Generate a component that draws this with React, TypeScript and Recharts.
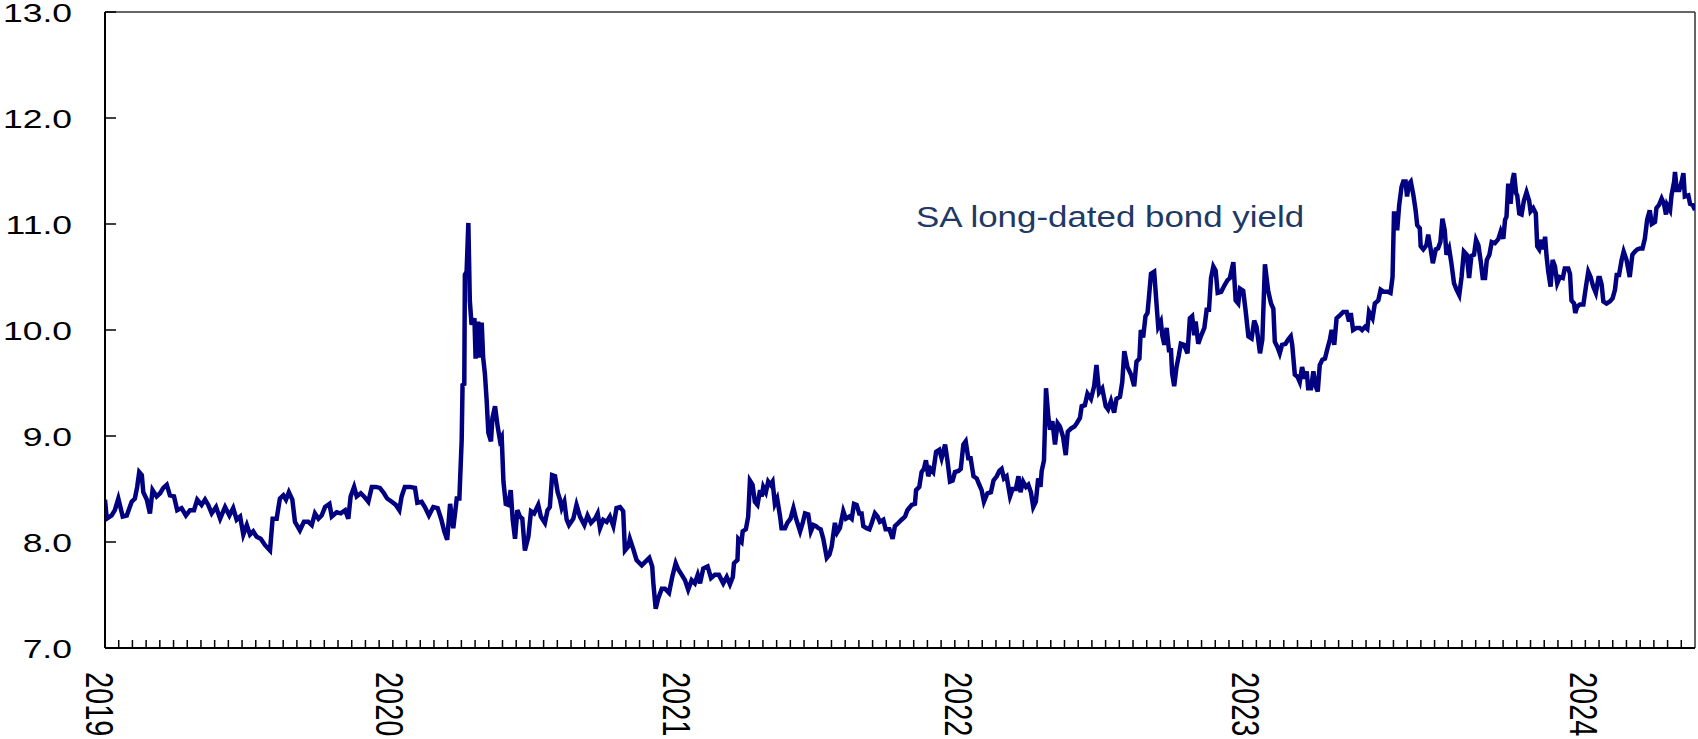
import { LineChart, Line, XAxis, YAxis, ReferenceLine, ReferenceDot } from "recharts";

// [date as fractional year, yield %]
const y2019: [number, number][] = [
  [2019.000, 8.40], [2019.006, 8.22], [2019.023, 8.25], [2019.034, 8.30], [2019.046, 8.41], [2019.061, 8.24],
  [2019.075, 8.25], [2019.092, 8.38], [2019.103, 8.41], [2019.111, 8.52], [2019.118, 8.66], [2019.127, 8.63],
  [2019.132, 8.47], [2019.144, 8.40], [2019.155, 8.27], [2019.164, 8.49], [2019.178, 8.43], [2019.190, 8.46],
  [2019.201, 8.51], [2019.213, 8.54], [2019.224, 8.44], [2019.238, 8.43], [2019.249, 8.30], [2019.264, 8.32],
  [2019.279, 8.25], [2019.293, 8.30], [2019.307, 8.30], [2019.318, 8.40], [2019.333, 8.35], [2019.345, 8.40],
  [2019.356, 8.35], [2019.368, 8.27], [2019.383, 8.33], [2019.397, 8.22], [2019.414, 8.33], [2019.429, 8.25],
  [2019.442, 8.32], [2019.454, 8.21], [2019.466, 8.24], [2019.477, 8.07], [2019.489, 8.16], [2019.500, 8.07],
  [2019.511, 8.10], [2019.523, 8.05], [2019.537, 8.03], [2019.552, 7.97], [2019.569, 7.92], [2019.578, 8.22],
  [2019.592, 8.22], [2019.603, 8.41], [2019.615, 8.44], [2019.624, 8.40], [2019.634, 8.47], [2019.646, 8.40],
  [2019.655, 8.19], [2019.672, 8.11], [2019.686, 8.19], [2019.701, 8.19], [2019.713, 8.16], [2019.724, 8.27],
  [2019.736, 8.22], [2019.747, 8.25], [2019.759, 8.33], [2019.774, 8.36], [2019.782, 8.24], [2019.799, 8.28],
  [2019.813, 8.27], [2019.828, 8.30], [2019.839, 8.22], [2019.847, 8.43], [2019.859, 8.52], [2019.868, 8.43],
  [2019.882, 8.46], [2019.893, 8.43], [2019.908, 8.38], [2019.920, 8.52], [2019.934, 8.52], [2019.948, 8.51],
  [2019.962, 8.46], [2019.973, 8.41], [2019.989, 8.38],
];

const y2020: [number, number][] = [
  [2020.003, 8.35], [2020.015, 8.30], [2020.023, 8.43], [2020.034, 8.52], [2020.052, 8.52], [2020.069, 8.51],
  [2020.077, 8.37], [2020.092, 8.38], [2020.103, 8.33], [2020.117, 8.25], [2020.132, 8.33], [2020.147, 8.32],
  [2020.159, 8.22], [2020.170, 8.10], [2020.180, 8.02], [2020.190, 8.36], [2020.201, 8.13], [2020.213, 8.41],
  [2020.222, 8.41], [2020.230, 8.96], [2020.233, 9.48], [2020.239, 9.49], [2020.241, 10.52], [2020.247, 10.55],
  [2020.253, 11.01], [2020.258, 10.28], [2020.264, 10.05], [2020.274, 10.11], [2020.278, 9.73], [2020.287, 10.08],
  [2020.293, 9.74], [2020.299, 10.07], [2020.304, 9.74], [2020.310, 9.59], [2020.316, 9.34], [2020.322, 9.03],
  [2020.331, 8.95], [2020.336, 9.17], [2020.345, 9.28], [2020.354, 9.09], [2020.362, 8.96], [2020.368, 8.99],
  [2020.374, 8.57], [2020.382, 8.36], [2020.391, 8.35], [2020.399, 8.49], [2020.406, 8.21], [2020.414, 8.03],
  [2020.422, 8.30], [2020.431, 8.24], [2020.439, 8.22], [2020.448, 7.92], [2020.460, 8.05], [2020.469, 8.29],
  [2020.480, 8.27], [2020.494, 8.35], [2020.503, 8.24], [2020.517, 8.18], [2020.526, 8.30], [2020.534, 8.33],
  [2020.542, 8.63], [2020.552, 8.62], [2020.561, 8.47], [2020.569, 8.40], [2020.575, 8.32], [2020.584, 8.38],
  [2020.592, 8.21], [2020.600, 8.16], [2020.615, 8.22], [2020.626, 8.35], [2020.638, 8.24], [2020.653, 8.16],
  [2020.664, 8.25], [2020.676, 8.18], [2020.690, 8.22], [2020.699, 8.27], [2020.707, 8.13], [2020.718, 8.21],
  [2020.730, 8.19], [2020.741, 8.24], [2020.753, 8.15], [2020.764, 8.32], [2020.776, 8.33], [2020.787, 8.29],
  [2020.793, 7.92], [2020.805, 7.96], [2020.810, 8.03], [2020.822, 7.93], [2020.833, 7.83], [2020.851, 7.78],
  [2020.862, 7.81], [2020.877, 7.85], [2020.887, 7.77], [2020.891, 7.61], [2020.899, 7.37], [2020.908, 7.47],
  [2020.920, 7.56], [2020.931, 7.56], [2020.945, 7.52], [2020.956, 7.67], [2020.968, 7.80], [2020.977, 7.74],
  [2020.989, 7.69],
];

const y2021: [number, number][] = [
  [2021.000, 7.64], [2021.011, 7.55], [2021.023, 7.64], [2021.034, 7.61], [2021.044, 7.69], [2021.052, 7.61],
  [2021.063, 7.75], [2021.078, 7.77], [2021.090, 7.66], [2021.103, 7.69], [2021.117, 7.69], [2021.132, 7.61],
  [2021.144, 7.67], [2021.155, 7.60], [2021.165, 7.67], [2021.169, 7.80], [2021.181, 7.83], [2021.184, 8.03],
  [2021.195, 8.00], [2021.199, 8.10], [2021.210, 8.12], [2021.218, 8.24], [2021.224, 8.58], [2021.233, 8.54],
  [2021.241, 8.38], [2021.250, 8.35], [2021.259, 8.49], [2021.265, 8.43], [2021.270, 8.52], [2021.279, 8.47],
  [2021.287, 8.57], [2021.295, 8.54], [2021.302, 8.57], [2021.310, 8.36], [2021.318, 8.41], [2021.328, 8.24],
  [2021.333, 8.13], [2021.345, 8.13], [2021.353, 8.18], [2021.364, 8.22], [2021.374, 8.32], [2021.383, 8.22],
  [2021.397, 8.10], [2021.406, 8.18], [2021.414, 8.27], [2021.425, 8.26], [2021.434, 8.10], [2021.443, 8.16],
  [2021.452, 8.15], [2021.460, 8.13], [2021.468, 8.12], [2021.477, 8.03], [2021.489, 7.85], [2021.498, 7.88],
  [2021.506, 7.96], [2021.517, 8.18], [2021.525, 8.09], [2021.534, 8.13], [2021.546, 8.29], [2021.555, 8.22],
  [2021.567, 8.24], [2021.575, 8.22], [2021.583, 8.36], [2021.592, 8.35], [2021.601, 8.27], [2021.609, 8.27],
  [2021.615, 8.15], [2021.626, 8.13], [2021.636, 8.12], [2021.644, 8.18], [2021.655, 8.27], [2021.664, 8.24],
  [2021.672, 8.19], [2021.684, 8.21], [2021.692, 8.12], [2021.705, 8.12], [2021.716, 8.03], [2021.724, 8.15],
  [2021.736, 8.18], [2021.747, 8.21], [2021.759, 8.24], [2021.767, 8.30], [2021.782, 8.35], [2021.793, 8.36],
  [2021.797, 8.49], [2021.808, 8.52], [2021.816, 8.66], [2021.824, 8.69], [2021.831, 8.77], [2021.839, 8.62],
  [2021.847, 8.69], [2021.856, 8.66], [2021.866, 8.85], [2021.877, 8.87], [2021.885, 8.79], [2021.897, 8.92],
  [2021.905, 8.77], [2021.914, 8.57], [2021.923, 8.58], [2021.931, 8.66], [2021.943, 8.67], [2021.951, 8.69],
  [2021.960, 8.92], [2021.968, 8.95], [2021.977, 8.79], [2021.985, 8.79], [2021.995, 8.62],
];

const y2022: [number, number][] = [
  [2022.006, 8.60], [2022.015, 8.54], [2022.023, 8.49], [2022.031, 8.38], [2022.043, 8.46], [2022.055, 8.47],
  [2022.064, 8.58], [2022.075, 8.62], [2022.084, 8.67], [2022.092, 8.69], [2022.100, 8.60], [2022.109, 8.62],
  [2022.121, 8.43], [2022.130, 8.50], [2022.141, 8.50], [2022.150, 8.62], [2022.157, 8.47], [2022.166, 8.57],
  [2022.176, 8.52], [2022.184, 8.54], [2022.193, 8.47], [2022.201, 8.33], [2022.210, 8.38], [2022.218, 8.60],
  [2022.226, 8.52], [2022.230, 8.67], [2022.238, 8.77], [2022.245, 9.45], [2022.253, 9.18], [2022.259, 9.06],
  [2022.267, 9.14], [2022.276, 8.92], [2022.285, 9.12], [2022.293, 9.09], [2022.304, 8.99], [2022.313, 8.82],
  [2022.320, 9.04], [2022.331, 9.07], [2022.343, 9.09], [2022.351, 9.12], [2022.362, 9.17], [2022.368, 9.28],
  [2022.379, 9.29], [2022.388, 9.40], [2022.400, 9.35], [2022.411, 9.47], [2022.419, 9.67], [2022.428, 9.41],
  [2022.439, 9.45], [2022.451, 9.28], [2022.459, 9.25], [2022.469, 9.33], [2022.480, 9.22], [2022.488, 9.35],
  [2022.500, 9.37], [2022.508, 9.51], [2022.515, 9.80], [2022.526, 9.65], [2022.538, 9.58], [2022.549, 9.47],
  [2022.557, 9.70], [2022.567, 9.73], [2022.572, 10.00], [2022.580, 9.93], [2022.588, 10.13], [2022.595, 10.16],
  [2022.600, 10.31], [2022.607, 10.53], [2022.618, 10.55], [2022.626, 10.25], [2022.632, 10.03], [2022.641, 10.08],
  [2022.646, 9.95], [2022.653, 9.86], [2022.661, 10.02], [2022.669, 9.81], [2022.676, 9.81], [2022.680, 9.59],
  [2022.687, 9.47], [2022.695, 9.65], [2022.703, 9.76], [2022.710, 9.87], [2022.721, 9.86], [2022.733, 9.78],
  [2022.741, 10.11], [2022.749, 10.13], [2022.756, 9.95], [2022.761, 10.08], [2022.770, 9.87], [2022.779, 9.94],
  [2022.791, 10.02], [2022.799, 10.19], [2022.807, 10.19], [2022.814, 10.49], [2022.822, 10.60], [2022.830, 10.56],
  [2022.837, 10.35], [2022.849, 10.36], [2022.860, 10.42], [2022.871, 10.47], [2022.879, 10.49], [2022.891, 10.64],
  [2022.899, 10.28], [2022.908, 10.25], [2022.914, 10.39], [2022.925, 10.37], [2022.933, 10.19], [2022.943, 9.94],
  [2022.954, 9.92], [2022.963, 10.09], [2022.971, 10.03], [2022.983, 9.78], [2022.991, 9.91],
];

const y2023: [number, number][] = [
  [2023.000, 10.62], [2023.011, 10.37], [2023.021, 10.25], [2023.029, 10.20], [2023.034, 9.89], [2023.043, 9.84],
  [2023.051, 9.78], [2023.059, 9.86], [2023.071, 9.87], [2023.080, 9.91], [2023.089, 9.94], [2023.094, 9.86],
  [2023.103, 9.58], [2023.112, 9.56], [2023.120, 9.51], [2023.128, 9.65], [2023.137, 9.54], [2023.144, 9.61],
  [2023.149, 9.45], [2023.159, 9.45], [2023.167, 9.61], [2023.175, 9.47], [2023.182, 9.42], [2023.189, 9.67],
  [2023.198, 9.72], [2023.207, 9.73], [2023.216, 9.83], [2023.224, 9.91], [2023.230, 10.00], [2023.239, 9.86],
  [2023.247, 10.11], [2023.259, 10.14], [2023.270, 10.17], [2023.282, 10.17], [2023.290, 10.08], [2023.296, 10.16],
  [2023.304, 10.00], [2023.316, 10.02], [2023.327, 10.02], [2023.335, 10.00], [2023.345, 10.03], [2023.353, 10.01],
  [2023.359, 10.17], [2023.371, 10.11], [2023.379, 10.25], [2023.391, 10.28], [2023.399, 10.38], [2023.410, 10.36],
  [2023.425, 10.36], [2023.433, 10.35], [2023.440, 10.50], [2023.445, 11.10], [2023.452, 11.10], [2023.456, 10.94],
  [2023.463, 11.18], [2023.471, 11.35], [2023.477, 11.40], [2023.485, 11.40], [2023.490, 11.26], [2023.497, 11.38],
  [2023.503, 11.40], [2023.512, 11.27], [2023.520, 11.12], [2023.525, 10.99], [2023.534, 10.96], [2023.537, 10.79],
  [2023.546, 10.76], [2023.557, 10.80], [2023.563, 10.90], [2023.571, 10.77], [2023.579, 10.63], [2023.589, 10.76],
  [2023.597, 10.77], [2023.605, 10.83], [2023.612, 11.05], [2023.620, 10.94], [2023.626, 10.71], [2023.635, 10.77],
  [2023.643, 10.63], [2023.652, 10.44], [2023.661, 10.38], [2023.670, 10.33], [2023.678, 10.50], [2023.686, 10.74],
  [2023.696, 10.71], [2023.704, 10.49], [2023.712, 10.70], [2023.721, 10.71], [2023.728, 10.85], [2023.736, 10.80],
  [2023.744, 10.65], [2023.751, 10.49], [2023.759, 10.49], [2023.765, 10.66], [2023.774, 10.71], [2023.782, 10.83],
  [2023.793, 10.82], [2023.805, 10.86], [2023.813, 10.93], [2023.822, 10.86], [2023.828, 11.04], [2023.833, 11.07],
  [2023.839, 11.38], [2023.847, 11.19], [2023.854, 11.42], [2023.859, 11.48], [2023.866, 11.29], [2023.870, 11.27],
  [2023.877, 11.10], [2023.885, 11.09], [2023.893, 11.22], [2023.902, 11.30], [2023.911, 11.22], [2023.916, 11.12],
  [2023.925, 11.15], [2023.934, 11.10], [2023.939, 10.79], [2023.946, 10.76], [2023.954, 10.85], [2023.960, 10.76],
  [2023.966, 10.88], [2023.971, 10.70], [2023.977, 10.55], [2023.985, 10.41], [2023.992, 10.66],
];

const y2024: [number, number][] = [
  [2024.000, 10.60], [2024.008, 10.44], [2024.017, 10.50], [2024.027, 10.49], [2024.034, 10.58], [2024.046, 10.58],
  [2024.052, 10.53], [2024.057, 10.28], [2024.066, 10.25], [2024.070, 10.16], [2024.077, 10.22], [2024.086, 10.24],
  [2024.098, 10.24], [2024.107, 10.41], [2024.115, 10.55], [2024.123, 10.50], [2024.132, 10.41], [2024.141, 10.35],
  [2024.150, 10.49], [2024.155, 10.49], [2024.161, 10.43], [2024.167, 10.27], [2024.178, 10.25], [2024.190, 10.27],
  [2024.199, 10.30], [2024.207, 10.38], [2024.213, 10.52], [2024.221, 10.52], [2024.230, 10.66], [2024.237, 10.74],
  [2024.247, 10.66], [2024.258, 10.50], [2024.267, 10.71], [2024.276, 10.74], [2024.284, 10.76], [2024.293, 10.77],
  [2024.302, 10.77], [2024.310, 10.86], [2024.318, 11.04], [2024.327, 11.13], [2024.334, 11.00], [2024.345, 11.02],
  [2024.350, 11.15], [2024.359, 11.18], [2024.368, 11.24], [2024.376, 11.19], [2024.383, 11.09], [2024.387, 11.18],
  [2024.397, 11.13], [2024.402, 11.27], [2024.411, 11.40], [2024.414, 11.49], [2024.420, 11.32], [2024.429, 11.32],
  [2024.437, 11.40], [2024.443, 11.48], [2024.448, 11.26], [2024.460, 11.27], [2024.466, 11.19], [2024.475, 11.18],
  [2024.483, 11.13],
];

const yearNames = ["2019", "2020", "2021", "2022", "2023", "2024"];
const yearLabelAt = [2019.0, 2020.0, 2020.99, 2021.962, 2022.952, 2024.117];
const yTicks = [7, 8, 9, 10, 11, 12, 13];
const seriesLabel = "SA long-dated bond yield";
const labelAt = { x: 2021.797, y: 10.97 };

const X_MIN = 2019;
const X_MAX = 2024.483;
const MINOR_COUNT = 116;

const data = [...y2019, ...y2020, ...y2021, ...y2022, ...y2023, ...y2024].map(([x, v]) => ({ x, v }));
const minorTicks = Array.from({ length: MINOR_COUNT - 1 }, (_, i) => X_MIN + ((i + 1) * (X_MAX - X_MIN)) / MINOR_COUNT);
const xTicks = [...minorTicks, ...yearLabelAt].sort((a, b) => a - b);

const FONT = "'Liberation Sans', Arial, sans-serif";

function XTick(props: any) {
  const { x, y, payload } = props;
  const idx = yearLabelAt.findIndex((p) => Math.abs(p - payload.value) < 1e-9);
  if (idx >= 0) {
    return (
      <g transform={`translate(${x - 19}, ${y + 24}) scale(1.34, 1) rotate(90)`}>
        <text x={0} y={0} fontSize={29} fontFamily={FONT} fill="#000">
          {yearNames[idx]}
        </text>
      </g>
    );
  }
  return <line x1={x} x2={x} y1={y} y2={y - 8} stroke="#000" strokeWidth={1.5} />;
}

function YTick(props: any) {
  const { x, y, payload } = props;
  return (
    <g>
      <line x1={x} x2={x + 11} y1={y} y2={y} stroke="#000" strokeWidth={1.5} />
      <g transform={`translate(72, ${y + 9.5}) scale(1.34, 1)`}>
        <text x={0} y={0} textAnchor="end" fontSize={26.5} fontFamily={FONT} fill="#000">
          {payload.value.toFixed(1)}
        </text>
      </g>
    </g>
  );
}

export default function App() {
  return (
    <div style={{ position: "absolute", left: 0, top: 0, width: 1698, height: 739, background: "#fff" }}>
      <LineChart width={1698} height={739} data={data} margin={{ top: 12, right: 3, left: 0, bottom: 0 }}>
        <XAxis
          dataKey="x"
          type="number"
          domain={[X_MIN, X_MAX]}
          ticks={xTicks}
          interval={0}
          height={91}
          tickSize={0}
          tickMargin={0}
          tickLine={false}
          axisLine={{ stroke: "#000", strokeWidth: 2 }}
          tick={<XTick />}
          allowDataOverflow
        />
        <YAxis
          type="number"
          domain={[7, 13]}
          ticks={yTicks}
          interval={0}
          width={105}
          tickSize={0}
          tickMargin={0}
          tickLine={false}
          axisLine={{ stroke: "#000", strokeWidth: 2 }}
          tick={<YTick />}
          allowDataOverflow
        />
        <ReferenceLine y={13} stroke="#333" strokeWidth={1.5} />
        <ReferenceLine x={X_MAX} stroke="#333" strokeWidth={1.5} />
        <Line
          dataKey="v"
          type="linear"
          stroke="#000080"
          strokeWidth={4.5}
          dot={false}
          isAnimationActive={false}
        />
        <ReferenceDot
          x={labelAt.x}
          y={labelAt.y}
          r={0}
          shape={(p: any) => (
            <text
              x={p.cx}
              y={p.cy}
              fontSize={30}
              fontFamily={FONT}
              fill="#1f3864"
              textLength={388}
              lengthAdjust="spacingAndGlyphs"
            >
              {seriesLabel}
            </text>
          )}
        />
      </LineChart>
    </div>
  );
}
